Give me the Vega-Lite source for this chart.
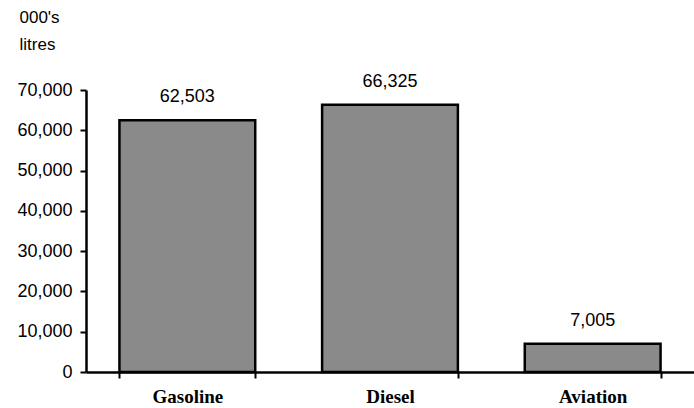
{
  "$schema": "https://vega.github.io/schema/vega-lite/v6.json",
  "autosize": "none",
  "width": 608,
  "height": 282,
  "padding": {"left": 86, "top": 90, "right": 0, "bottom": 36},
  "background": "white",
  "config": {"view": {"stroke": null}},
  "data": {"values": [
    {"fuel": "Gasoline", "volume": 62503},
    {"fuel": "Diesel", "volume": 66325},
    {"fuel": "Aviation", "volume": 7005}
  ]},
  "encoding": {
    "x": {"field": "fuel", "type": "nominal", "sort": null,
      "scale": {"paddingInner": 0.33, "paddingOuter": 0.165},
      "axis": {"title": null, "labelAngle": 0, "labelFont": "Liberation Serif", "labelFontSize": 19, "labelFontWeight": "bold", "labelColor": "black",
        "domainColor": "black", "domainWidth": 2.5, "tickColor": "black", "tickWidth": 2, "tickSize": 6, "tickBand": "extent", "labelPadding": 9}},
    "y": {"field": "volume", "type": "quantitative",
      "scale": {"domain": [0, 70000], "nice": false},
      "axis": {"values": [0, 10000, 20000, 30000, 40000, 50000, 60000, 70000], "labelExpr": "format(datum.value, ',d')", "grid": false,
        "labelFont": "Liberation Sans", "labelFontSize": 18, "labelColor": "black", "labelPadding": 8,
        "domainColor": "black", "domainWidth": 2.5, "tickColor": "black", "tickWidth": 2, "tickSize": 6,
        "title": ["000's", "litres"], "titleAngle": 0, "titleAlign": "left", "titleBaseline": "top",
        "titleX": -67, "titleY": -81, "titleFont": "Liberation Sans", "titleFontSize": 17, "titleFontWeight": "normal", "titleColor": "black", "titleLineHeight": 27}}
  },
  "layer": [
    {"mark": {"type": "bar", "color": "#8a8a8a", "stroke": "black", "strokeWidth": 2.5}},
    {"mark": {"type": "text", "baseline": "bottom", "dy": -14, "font": "Liberation Sans", "fontSize": 18, "color": "black"},
      "encoding": {"text": {"field": "volume", "type": "quantitative", "format": ",d"}}}
  ]
}
